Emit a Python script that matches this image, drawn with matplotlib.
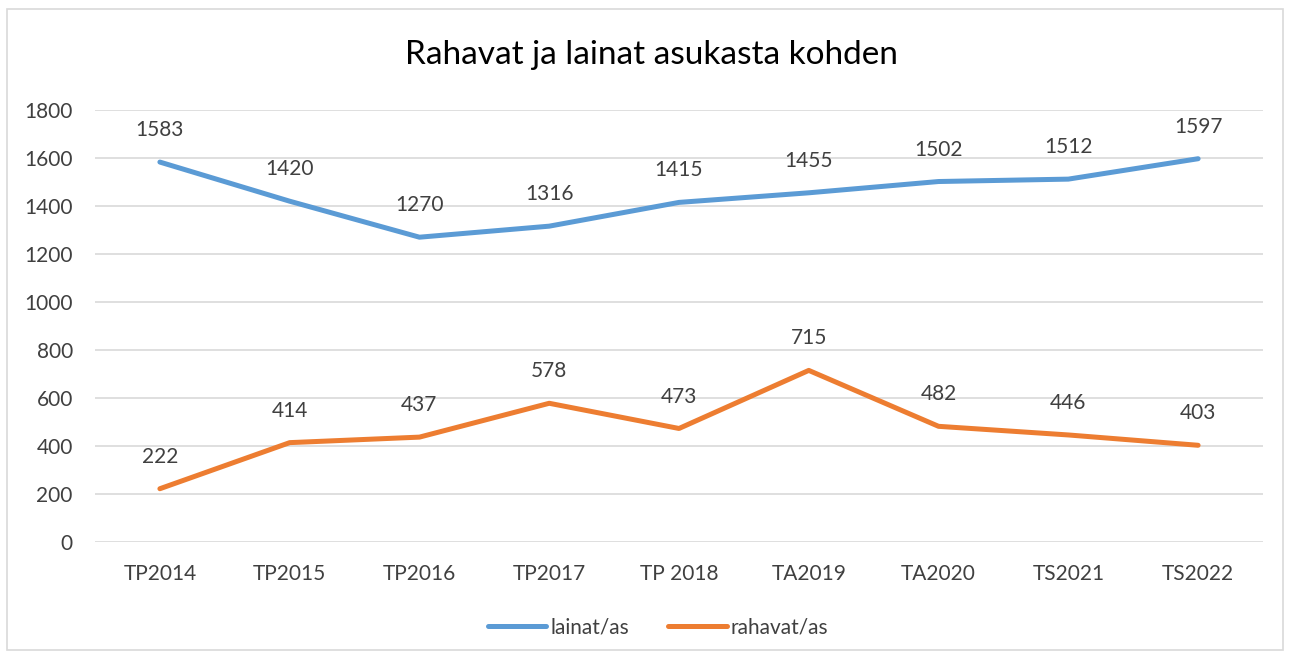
import matplotlib
matplotlib.use("Agg")
import matplotlib.pyplot as plt
from matplotlib.patches import Rectangle

categories = ["TP2014", "TP2015", "TP2016", "TP2017", "TP 2018", "TA2019", "TA2020", "TS2021", "TS2022"]
lainat = [1583, 1420, 1270, 1316, 1415, 1455, 1502, 1512, 1597]
rahavat = [222, 414, 437, 578, 473, 715, 482, 446, 403]
yticks = [0, 200, 400, 600, 800, 1000, 1200, 1400, 1600, 1800]

plt.rcParams['font.family'] = ['Lato', 'DejaVu Sans']
txt = '#404040'
fs = 15

fig = plt.figure(figsize=(12.91, 6.57), dpi=100)
fig.patches.append(Rectangle((7/1291, 7/657), 1276/1291, 641/657, transform=fig.transFigure,
                             fill=False, edgecolor='#D9D9D9', linewidth=1.2))
ax = fig.add_axes([95/1291, 1-542/657, 1168/1291, 432/657])
x = list(range(len(categories)))
l1, = ax.plot(x, lainat, color='#5B9BD5', linewidth=3.6, solid_capstyle='round', label='lainat/as')
l2, = ax.plot(x, rahavat, color='#ED7D31', linewidth=3.6, solid_capstyle='round', label='rahavat/as')
for xi, v in zip(x, lainat):
    ax.annotate(str(v), (xi, v), xytext=(0, 23), textcoords='offset points', ha='center', va='center',
                fontsize=fs, color=txt)
for xi, v in zip(x, rahavat):
    ax.annotate(str(v), (xi, v), xytext=(0, 23), textcoords='offset points', ha='center', va='center',
                fontsize=fs, color=txt)
ax.set_xlim(-0.5, len(categories)-0.5)
ax.set_ylim(0, 1800)
ax.set_yticks(yticks)
ax.set_xticks(x)
ax.set_xticklabels(categories)
ax.tick_params(length=0, labelsize=fs, labelcolor=txt)
ax.tick_params(axis='x', pad=16)
ax.tick_params(axis='y', pad=16)
ax.grid(axis='y', color='#D9D9D9', linewidth=1.2)
ax.set_axisbelow(True)
for s in ax.spines.values():
    s.set_visible(False)
fig.text(651/1291, 1-55/657, "Rahavat ja lainat asukasta kohden", ha='center', va='center',
         fontsize=24, color='black')
fig.legend(handles=[l1, l2], loc='center', bbox_to_anchor=(658/1291, 1-627/657), ncol=2, frameon=False,
           fontsize=fs, labelcolor=txt, handlelength=2.8, handletextpad=0.2, columnspacing=1.9)
fig.savefig("out.png", dpi=100)
